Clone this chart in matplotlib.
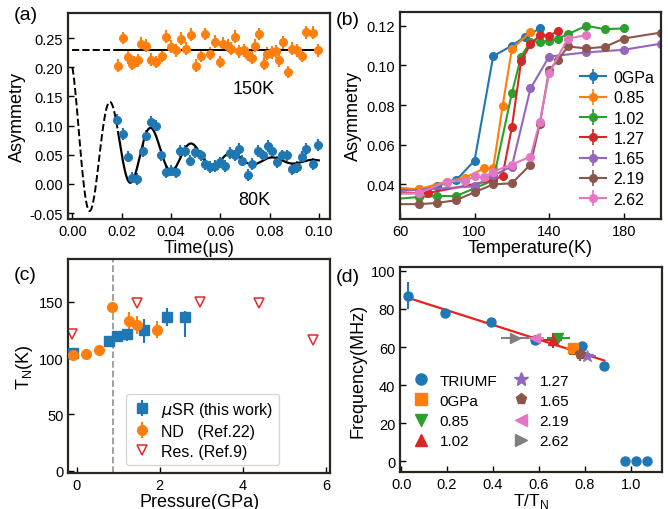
import numpy as np
import matplotlib
matplotlib.use("Agg")
import matplotlib.pyplot as plt
from matplotlib.lines import Line2D

plt.rcParams['font.family'] = ['Liberation Sans', 'DejaVu Sans']
plt.rcParams['axes.unicode_minus'] = False

# ---- (a) muSR time spectra ----
t_150 = [0.0185, 0.0205, 0.0226, 0.024, 0.025, 0.0266, 0.028, 0.030, 0.032, 0.034,
         0.0365, 0.038, 0.040, 0.042, 0.044, 0.046, 0.048, 0.050, 0.052, 0.054,
         0.056, 0.058, 0.060, 0.0613, 0.063, 0.0645, 0.066, 0.0675, 0.0695, 0.0712,
         0.0727, 0.074, 0.0757, 0.0776, 0.079, 0.081, 0.0825, 0.084, 0.0855, 0.0875,
         0.089, 0.091, 0.093, 0.095, 0.0977, 0.0996]
a_150 = [0.203, 0.250, 0.217, 0.206, 0.209, 0.212, 0.240, 0.237, 0.213, 0.209,
         0.220, 0.252, 0.235, 0.229, 0.249, 0.232, 0.256, 0.203, 0.220, 0.257,
         0.223, 0.244, 0.209, 0.240, 0.237, 0.232, 0.252, 0.227, 0.229, 0.221,
         0.216, 0.237, 0.257, 0.206, 0.223, 0.226, 0.227, 0.212, 0.243, 0.192,
         0.232, 0.229, 0.220, 0.260, 0.259, 0.229]
t_80 = [0.0181, 0.0205, 0.0226, 0.0243, 0.0264, 0.0286, 0.030, 0.032, 0.034, 0.036,
        0.038, 0.040, 0.042, 0.0435, 0.0455, 0.0476, 0.0496, 0.052, 0.054, 0.056,
        0.058, 0.060, 0.062, 0.064, 0.066, 0.0675, 0.069, 0.0712, 0.073, 0.0755,
        0.0775, 0.0795, 0.081, 0.083, 0.085, 0.087, 0.089, 0.091, 0.093, 0.095,
        0.0975, 0.0995]
a_80 = [0.110, 0.086, 0.047, 0.011, 0.009, 0.057, 0.083, 0.107, 0.100, 0.049,
        0.020, 0.023, 0.020, 0.057, 0.057, 0.040, 0.054, 0.049, 0.034, 0.029,
        0.031, 0.037, 0.031, 0.053, 0.049, 0.060, 0.040, 0.015, 0.034, 0.057,
        0.049, 0.065, 0.057, 0.038, 0.049, 0.049, 0.026, 0.029, 0.046, 0.060,
        0.034, 0.067]
err_150 = 0.011
err_80 = 0.010
# fit parameters
level_150 = 0.229
base_80, off_80, t_off = 0.038, 0.026, 0.05
amp_80, lam_80, freq_80, phi_80 = 0.146, 40.0, 60.6, 0.38
t_data_start = 0.0185

# ---- (b) asymmetry vs temperature ----
b_labels = ['0GPa', '0.85', '1.02', '1.27', '1.65', '2.19', '2.62']
b_T = [
    [50, 70, 80, 90, 100, 110, 120, 127, 135],
    [50, 70, 85, 95, 105, 110, 115, 120, 130],
    [50, 70, 80, 90, 100, 110, 120, 125, 130, 135, 140, 145, 150, 160, 170, 180],
    [50, 75, 110, 115, 120, 125, 130, 135, 140, 145],
    [50, 100, 110, 120, 130, 140, 160, 180, 200],
    [50, 70, 80, 90, 100, 110, 120, 130, 135, 140, 145, 150, 160, 170, 180, 200],
    [50, 70, 85, 95, 100, 105, 110, 120, 130, 135, 140, 150, 160],
]
b_A = [
    [0.038, 0.0375, 0.0392, 0.042, 0.052, 0.1047, 0.110, 0.1145, 0.1187],
    [0.039, 0.0375, 0.0414, 0.0434, 0.048, 0.048, 0.0793, 0.1082, 0.117],
    [0.032, 0.0336, 0.0341, 0.0341, 0.038, 0.042, 0.086, 0.1045, 0.112, 0.112,
     0.1124, 0.1136, 0.1158, 0.120, 0.1183, 0.1187],
    [0.0355, 0.0356, 0.042, 0.0444, 0.0687, 0.1023, 0.1107, 0.1153, 0.115, 0.1175],
    [0.036, 0.039, 0.0445, 0.049, 0.0884, 0.1045, 0.1066, 0.1079, 0.111],
    [0.030, 0.030, 0.0306, 0.032, 0.036, 0.040, 0.0405, 0.050, 0.0705, 0.0977,
     0.1029, 0.1096, 0.1086, 0.1094, 0.1136, 0.1166],
    [0.035, 0.0355, 0.0413, 0.0418, 0.044, 0.0435, 0.0464, 0.050, 0.054, 0.0716,
     0.0961, 0.1136, 0.1153],
]

# ---- (c) T_N vs pressure ----
musr_P = [-0.08, 0.78, 0.97, 1.21, 1.63, 2.17, 2.62]
musr_TN = [104.4, 114.8, 119.2, 121.0, 125.1, 136.1, 136.1]
musr_err_lo = [4, 2, 4, 6, 12, 8, 17]
musr_err_hi = [4, 2, 4, 4, 9.5, 8, 5.3]
nd_P = [-0.08, 0.23, 0.54, 0.86, 1.25, 1.46, 1.93]
nd_TN = [102.7, 103.5, 107.0, 145.5, 133.1, 129.3, 125.1]
nd_err = [0, 0, 5, 0, 8, 8, 7.5]
res_P = [-0.12, 1.45, 2.96, 4.40, 5.68]
res_TN = [121, 149, 150, 149, 116]
p_dashed = 0.88

# ---- (d) frequency vs T/TN ----
triumf_x = [0.03, 0.19, 0.39, 0.585, 0.79, 0.885, 0.975, 1.025, 1.07]
triumf_f = [86.9, 77.6, 72.9, 63.6, 60.3, 50.2, 0, 0, 0]
triumf_err = [7, 1.5, 1.5, 1.5, 1.5, 1.5, 0, 0, 0]
d_labels = ['0GPa', '0.85', '1.02', '1.27', '1.65', '2.19', '2.62']
d_x = [0.747, 0.684, 0.66, 0.81, 0.778, 0.583, 0.496]
d_f = [59.4, 64.5, 63.6, 55.4, 56.6, 65.0, 64.5]
d_xerr = [0.03, 0.05, 0.04, 0.04, 0.045, 0.04, 0.06]
d_ferr = [1.5, 1.5, 4, 1.5, 4, 1.5, 1.5]
d_markers = ['s', 'v', '^', '*', 'p', '<', '>']

colors = plt.rcParams['axes.prop_cycle'].by_key()['color']
spine_col = '#2b2522'


def style(ax):
    for s in ax.spines.values():
        s.set_linewidth(1.6)
        s.set_color(spine_col)
    ax.tick_params(direction='in', length=4, width=1, labelsize=10.5,
                   top=False, right=False)


fig = plt.figure(figsize=(6.68, 5.10), dpi=100)

# (a)
ax = fig.add_axes([0.1018, 0.5686, 0.392, 0.404])
style(ax)
ax.errorbar(t_150, a_150, yerr=err_150, fmt='o', color=colors[1], ms=5.5,
            elinewidth=1.5, capsize=0)
ax.errorbar(t_80, a_80, yerr=err_80, fmt='o', color=colors[0], ms=5.5,
            elinewidth=1.5, capsize=0)
tt = np.linspace(0, 0.1, 600)
fit80 = (base_80 + off_80 * np.exp(-(tt / t_off) ** 2)
         + amp_80 * np.exp(-lam_80 * tt) * np.cos(2 * np.pi * freq_80 * tt + phi_80))
early = tt <= t_data_start
ax.plot(tt[early], fit80[early], '--', color='k', lw=1.4)
ax.plot(tt[~early], fit80[~early], '-', color='k', lw=1.6)
ax.plot([0, t_data_start], [level_150, level_150], '--', color='k', lw=1.4)
ax.plot([t_data_start, 0.1], [level_150, level_150], '-', color='k', lw=1.4)
ax.text(0.0735, 0.163, '150K', fontsize=13, ha='center', va='center')
ax.text(0.074, -0.026, '80K', fontsize=13, ha='center', va='center')
ax.set_xlim(-0.0018, 0.1045)
ax.set_ylim(-0.06, 0.293)
ax.set_xticks(np.arange(0, 0.101, 0.02))
ax.set_xticklabels(['%.2f' % v for v in np.arange(0, 0.101, 0.02)])
ax.set_yticks(np.arange(-0.05, 0.26, 0.05))
ax.set_yticklabels(['%.2f' % v for v in np.arange(-0.05, 0.26, 0.05)])
ax.set_xlabel('Time(\u03bcs)', fontsize=13, labelpad=1)
ax.set_ylabel('Asymmetry', fontsize=13, labelpad=3)
fig.text(0.02, 0.97, '(a)', fontsize=14, va='center')

# (b)
ax = fig.add_axes([0.5988, 0.5686, 0.3907, 0.406])
style(ax)
for i, lab in enumerate(b_labels):
    ax.errorbar(b_T[i], b_A[i], yerr=0.0008, fmt='-o', color=colors[i], ms=5.5,
                lw=1.5, elinewidth=1.2, capsize=0, label=lab)
ax.set_xlim(60, 200)
ax.set_ylim(0.0225, 0.127)
ax.set_xticks([60, 100, 140, 180])
ax.set_yticks([0.04, 0.06, 0.08, 0.10, 0.12])
ax.set_yticklabels(['0.04', '0.06', '0.08', '0.10', '0.12'])
ax.set_xlabel('Temperature(K)', fontsize=13, labelpad=1)
ax.set_ylabel('Asymmetry', fontsize=13, labelpad=3)
ax.legend(loc='lower right', bbox_to_anchor=(1.03, -0.01), frameon=False,
          fontsize=11.5, handlelength=1.6, labelspacing=0.33, handletextpad=0.5)
fig.text(0.503, 0.96, '(b)', fontsize=14, va='center')

# (c)
ax = fig.add_axes([0.1022, 0.0706, 0.3918, 0.4196])
style(ax)
ax.axvline(p_dashed, color='#999999', ls='--', lw=1.3, zorder=0)
h_musr = ax.errorbar(musr_P, musr_TN, yerr=[musr_err_lo, musr_err_hi], fmt='s',
                     color=colors[0], ms=7, elinewidth=1.5, capsize=0, zorder=3)
h_nd = ax.errorbar(nd_P, nd_TN, yerr=nd_err, fmt='o', color=colors[1], ms=7,
                   elinewidth=1.5, capsize=0, zorder=3)
h_res, = ax.plot(res_P, res_TN, 'v', mfc='none', mec='#e8262a', ms=7, mew=1.1,
                 ls='none')
ax.set_xlim(-0.2, 6.1)
ax.set_ylim(-2, 188)
ax.set_xticks([0, 2, 4, 6])
ax.set_yticks([0, 50, 100, 150])
ax.set_xlabel('Pressure(GPa)', fontsize=13, labelpad=1)
ax.set_ylabel('T$_\\mathregular{N}$(K)', fontsize=13, labelpad=3)
ax.legend([h_musr, h_nd, h_res],
          ['$\\mu$SR (this work)', 'ND   (Ref.22)', 'Res. (Ref.9)'],
          loc='lower left', bbox_to_anchor=(0.19, 0.0), fontsize=11.5,
          handlelength=1.2, labelspacing=0.3, handletextpad=0.6)
fig.text(0.02, 0.46, '(c)', fontsize=14, va='center')

# (d)
ax = fig.add_axes([0.5988, 0.0725, 0.392, 0.402])
style(ax)
fx = np.array(triumf_x[:6])
ff = np.array(triumf_f[:6])
k, b0 = np.polyfit(fx, ff, 1)
xl = np.array([fx[0], fx[-1]])
ax.plot(xl, k * xl + b0, color='#e8211f', lw=1.6, zorder=2)
ax.errorbar(triumf_x, triumf_f, yerr=triumf_err, fmt='o', color=colors[0],
            ms=6.5, elinewidth=1.5, capsize=0, zorder=3)
handles = [Line2D([], [], marker='o', color=colors[0], ls='none', ms=8)]
for i, lab in enumerate(d_labels):
    ms = 9 if d_markers[i] == '*' else 7
    ax.errorbar(d_x[i], d_f[i], xerr=d_xerr[i], yerr=d_ferr[i],
                fmt=d_markers[i], color=colors[i + 1], ms=ms, elinewidth=1.5,
                capsize=0, zorder=3)
    handles.append(Line2D([], [], marker=d_markers[i], color=colors[i + 1],
                          ls='none', ms=ms + 1))
ax.set_xlim(-0.005, 1.136)
ax.set_ylim(-5.6, 102)
ax.set_xticks(np.arange(0, 1.01, 0.2))
ax.set_xticklabels(['%.1f' % v for v in np.arange(0, 1.01, 0.2)])
ax.set_yticks(np.arange(0, 101, 20))
ax.set_xlabel('T/T$_\\mathregular{N}$', fontsize=12.5, labelpad=0)
ax.set_ylabel('Frequency(MHz)', fontsize=13, labelpad=3)
ax.legend(handles, ['TRIUMF'] + d_labels, loc='lower left',
          bbox_to_anchor=(0.0, 0.05), ncol=2, frameon=False, fontsize=11,
          handlelength=1.0, labelspacing=0.4, columnspacing=1.07,
          handletextpad=0.7)
fig.text(0.503, 0.455, '(d)', fontsize=14, va='center')

fig.savefig('out.png', dpi=100)
